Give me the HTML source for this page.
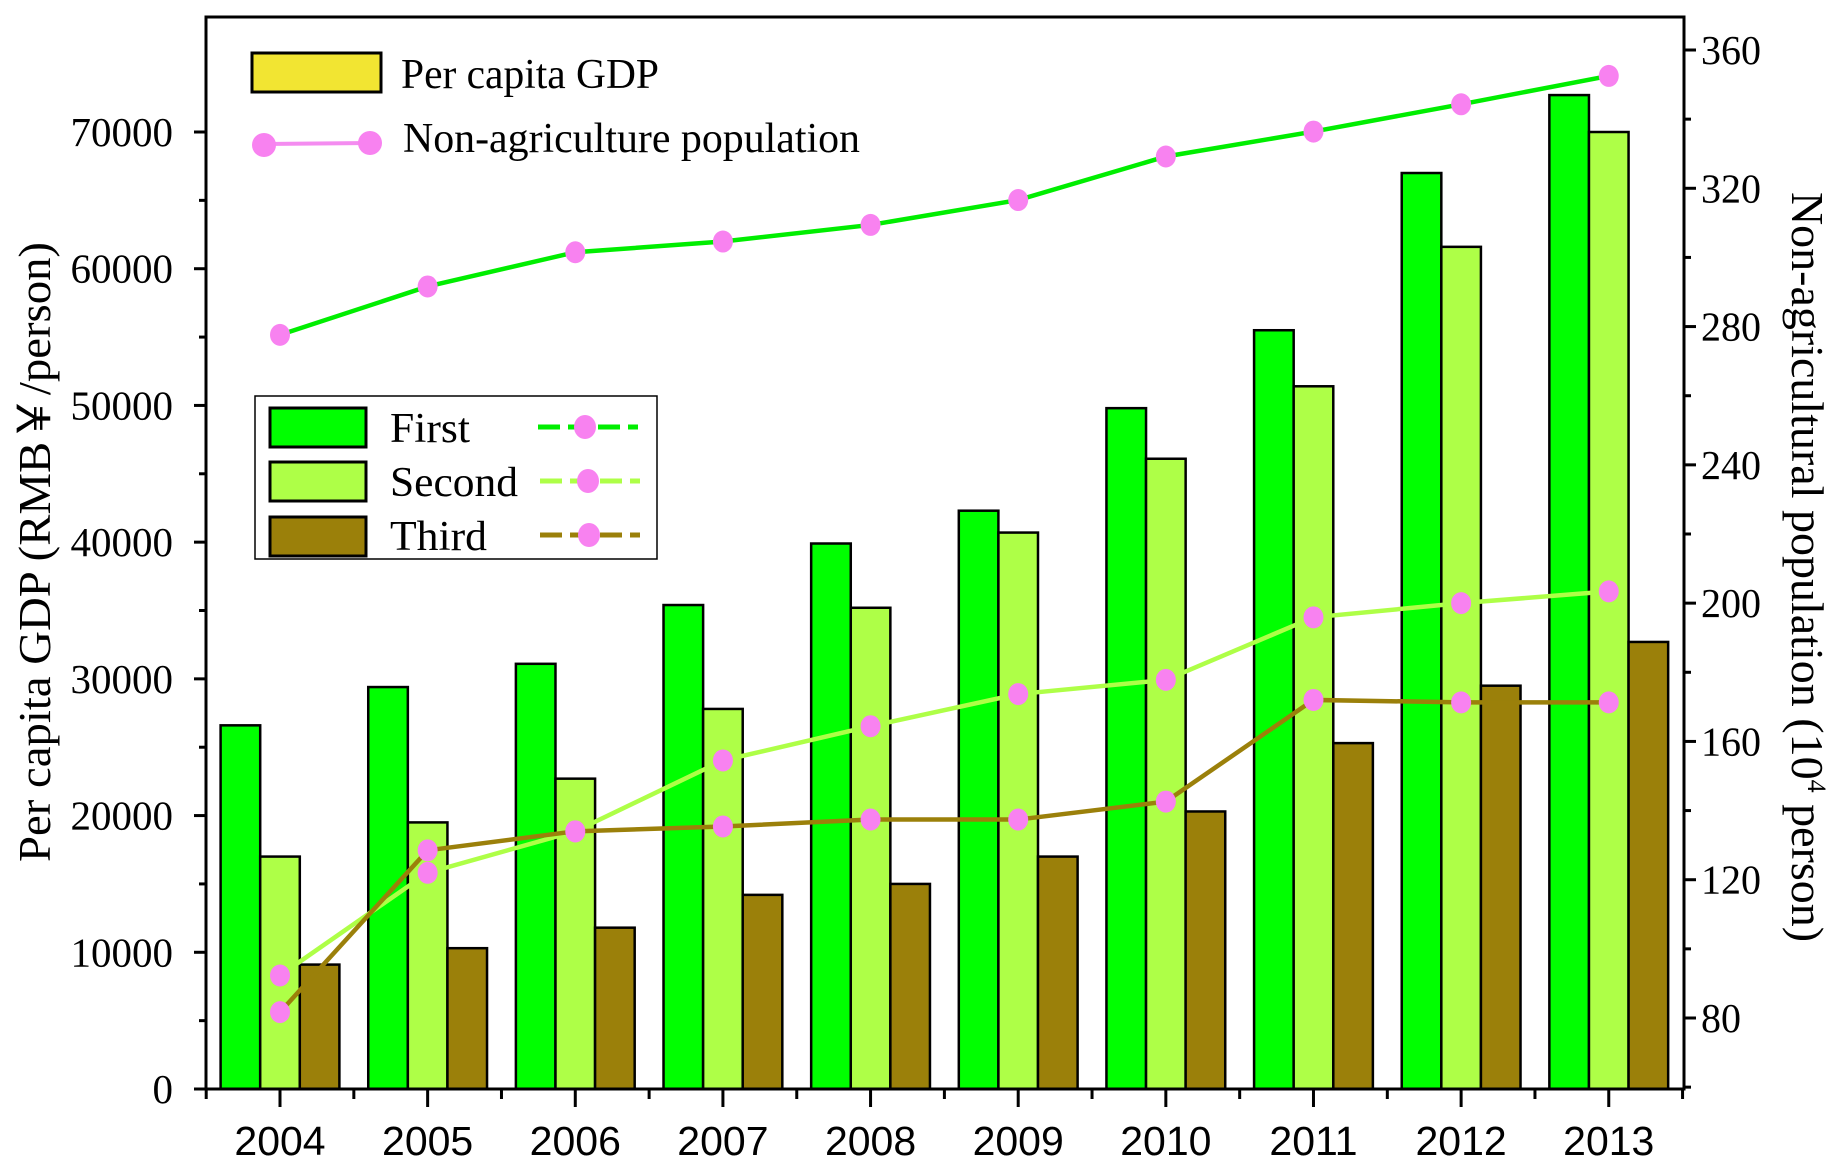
<!DOCTYPE html>
<html><head><meta charset="utf-8"><style>
body{margin:0;background:#fff}
svg{display:block}
text{font-family:"Liberation Serif",serif;fill:#000}
</style></head><body>
<svg id="chart" width="1844" height="1171" xmlns="http://www.w3.org/2000/svg">
<g id="bars"></g>
<g id="lines"></g>
<g id="axes"></g>
<g>
<rect x="252" y="53" width="129" height="39" fill="#f2e532" stroke="#000" stroke-width="3"/>
<text x="401" y="88" font-size="42" textLength="258" lengthAdjust="spacingAndGlyphs">Per capita GDP</text>
<line x1="264" y1="144" x2="370" y2="143" stroke="#f48cf0" stroke-width="4"/>
<ellipse cx="264" cy="145" rx="12" ry="12" fill="#f882f0"/>
<ellipse cx="370" cy="143" rx="12" ry="12" fill="#f882f0"/>
<text x="403" y="152" font-size="42" textLength="457" lengthAdjust="spacingAndGlyphs">Non-agriculture population</text>
</g>
<g>
<rect x="255" y="396" width="402" height="163" fill="#fff" stroke="#000" stroke-width="1.5"/>
<rect x="270" y="408" width="96" height="39" fill="#00ff00" stroke="#000" stroke-width="3"/>
<rect x="270" y="462" width="96" height="39" fill="#aeff47" stroke="#000" stroke-width="3"/>
<rect x="270" y="517" width="96" height="39" fill="#9b800a" stroke="#000" stroke-width="3"/>
<text x="390" y="442" font-size="42" textLength="80" lengthAdjust="spacingAndGlyphs">First</text>
<text x="390" y="496" font-size="42" textLength="128" lengthAdjust="spacingAndGlyphs">Second</text>
<text x="390" y="550" font-size="42" textLength="97" lengthAdjust="spacingAndGlyphs">Third</text>
<line x1="538" y1="427" x2="638" y2="427" stroke="#00ee00" stroke-width="5" stroke-dasharray="22,8"/>
<line x1="540" y1="481" x2="640" y2="481" stroke="#aeff47" stroke-width="5" stroke-dasharray="22,8"/>
<line x1="540" y1="535" x2="640" y2="535" stroke="#9b800a" stroke-width="5" stroke-dasharray="22,8"/>
<ellipse cx="585" cy="427" rx="11" ry="12" fill="#f882f0"/>
<ellipse cx="588" cy="481" rx="11" ry="12" fill="#f882f0"/>
<ellipse cx="589" cy="535" rx="11" ry="12" fill="#f882f0"/>
</g>
<text transform="translate(50,552) rotate(-90)" text-anchor="middle" font-size="46" textLength="620" lengthAdjust="spacingAndGlyphs">Per capita GDP (RMB￥/person)</text>
<text transform="translate(1792,567) rotate(90)" text-anchor="middle" font-size="46">Non-agricultural population (10<tspan dy="-16" font-size="26">4</tspan><tspan dy="16"> person)</tspan></text>
</svg>
<script>
const years=['2004','2005','2006','2007','2008','2009','2010','2011','2012','2013'];
const gdpFirst=[26600,29400,31100,35400,39900,42300,49800,55500,67000,72700];
const gdpSecond=[17000,19500,22700,27800,35200,40700,46100,51400,61600,70000];
const gdpThird=[9100,10300,11800,14200,15000,17000,20300,25300,29500,32700];
const popFirst=[277.6,291.6,301.5,304.6,309.4,316.6,329.2,336.4,344.3,352.5];
const popSecond=[92.3,122,134,154.5,164.4,173.7,177.8,195.9,200,203.4];
const popThird=[81.7,128.5,134,135.4,137.4,137.4,142.6,172,171.3,171.3];
const leftTicks=[0,10000,20000,30000,40000,50000,60000,70000];
const rightTicks=[80,120,160,200,240,280,320,360];

const L=206,R=1684,T=17,B=1089;
const NS='http://www.w3.org/2000/svg';
const x=i=>280+i*147.64;
const yL=v=>1089-v*(957/70000);
const yR=v=>1018-(v-80)*(968/280);
function mk(p,tag,a){const e=document.createElementNS(NS,tag);for(const k in a)e.setAttribute(k,a[k]);p.appendChild(e);return e;}
const bars=document.getElementById('bars'),lines=document.getElementById('lines'),axes=document.getElementById('axes');
const bw=39.6;
[[gdpFirst,'#00ff00','first'],[gdpSecond,'#aeff47','second'],[gdpThird,'#9b800a','third']].forEach((s,k)=>{
 s[0].forEach((v,i)=>{
  const r=mk(bars,'rect',{x:x(i)+(k-1.5)*bw,y:yL(v),width:bw,height:B-yL(v),fill:s[1],stroke:'#000','stroke-width':2.5});
  
  
 });
});
[[popFirst,'#00ee00','first'],[popSecond,'#aeff47','second'],[popThird,'#9b800a','third']].forEach(s=>{
 const pl=mk(lines,'polyline',{points:s[0].map((v,i)=>x(i)+','+yR(v)).join(' '),fill:'none',stroke:s[1],'stroke-width':4.5});
 
 
 s[0].forEach((v,i)=>{
  const c=mk(lines,'ellipse',{cx:x(i),cy:yR(v),rx:10,ry:11,fill:'#f882f0'});
  
  
 });
});
mk(axes,'path',{d:`M${L},${B} L${L},${T} L${R},${T} L${R},${B} Z`,fill:'none',stroke:'#000','stroke-width':3});
leftTicks.forEach(v=>{
 mk(axes,'line',{x1:L-12,y1:yL(v),x2:L,y2:yL(v),stroke:'#000','stroke-width':3});
 const t=mk(axes,'text',{x:173,y:yL(v)+14,'text-anchor':'end','font-size':41});t.textContent=v;
 
 
 if(v<70000)mk(axes,'line',{x1:L-7,y1:yL(v+5000),x2:L,y2:yL(v+5000),stroke:'#000','stroke-width':3});
});
rightTicks.forEach(v=>{
 mk(axes,'line',{x1:R,y1:yR(v),x2:R+12,y2:yR(v),stroke:'#000','stroke-width':3});
 const t=mk(axes,'text',{x:1701,y:yR(v)+14,'font-size':41,textLength:60,lengthAdjust:'spacingAndGlyphs'});t.textContent=v;
 if(v<100)t.setAttribute('textLength',40);
 
 
 mk(axes,'line',{x1:R,y1:yR(v-20),x2:R+7,y2:yR(v-20),stroke:'#000','stroke-width':3});
});
years.forEach((yr,i)=>{
 mk(axes,'line',{x1:x(i),y1:B,x2:x(i),y2:B+18,stroke:'#000','stroke-width':3});
 mk(axes,'line',{x1:x(i)-73.8,y1:B,x2:x(i)-73.8,y2:B+10,stroke:'#000','stroke-width':3});
 const t=mk(axes,'text',{x:x(i),y:1155,'text-anchor':'middle','font-size':41,style:'font-family:"Liberation Sans",sans-serif'});t.textContent=yr;
 
 
});
mk(axes,'line',{x1:x(9)+73.8,y1:B,x2:x(9)+73.8,y2:B+10,stroke:'#000','stroke-width':3});
</script>
</body></html>
